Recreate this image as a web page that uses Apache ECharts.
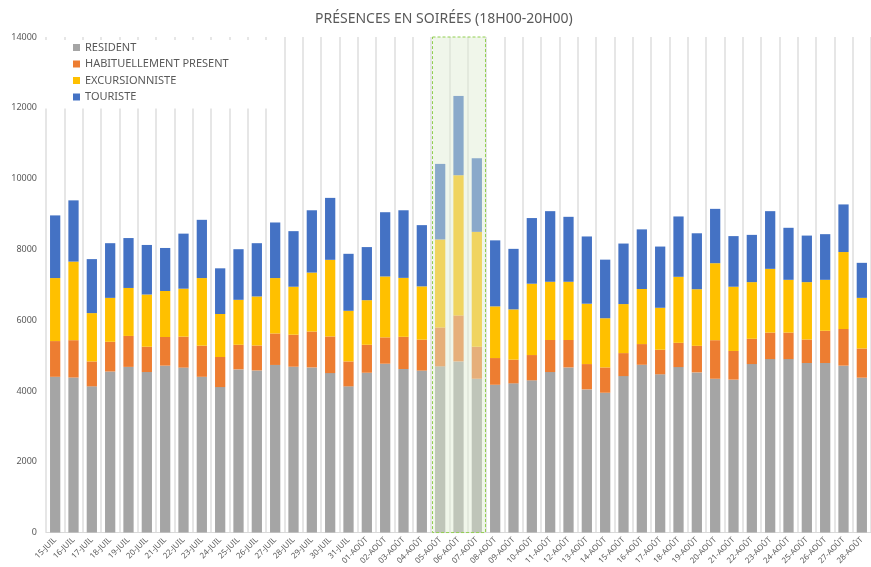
<!DOCTYPE html>
<html>
<head>
<meta charset="utf-8">
<script src="https://cdn.jsdelivr.net/npm/echarts@6/dist/echarts.min.js"></script>
<style>
  html, body { margin: 0; padding: 0; background: #fff; }
  #myChart { width: 871px; height: 567px; }
</style>
</head>
<body>
<div id="myChart"></div>
<script>
const days = ['15-JUIL', '16-JUIL', '17-JUIL', '18-JUIL', '19-JUIL', '20-JUIL', '21-JUIL', '22-JUIL', '23-JUIL',
  '24-JUIL', '25-JUIL', '26-JUIL', '27-JUIL', '28-JUIL', '29-JUIL', '30-JUIL', '31-JUIL',
  '01-AOÛT', '02-AOÛT', '03-AOÛT', '04-AOÛT', '05-AOÛT', '06-AOÛT', '07-AOÛT', '08-AOÛT', '09-AOÛT',
  '10-AOÛT', '11-AOÛT', '12-AOÛT', '13-AOÛT', '14-AOÛT', '15-AOÛT', '16-AOÛT', '17-AOÛT', '18-AOÛT',
  '19-AOÛT', '20-AOÛT', '21-AOÛT', '22-AOÛT', '23-AOÛT', '24-AOÛT', '25-AOÛT', '26-AOÛT', '27-AOÛT', '28-AOÛT'];

const resident = [4400, 4380, 4130, 4550, 4680, 4535, 4715, 4660, 4400, 4110, 4610, 4580, 4735, 4685,
  4665, 4505, 4130, 4515, 4770, 4620, 4575, 4695, 4835, 4345, 4175, 4215, 4300,
  4535, 4665, 4045, 3950, 4420, 4740, 4470, 4675, 4525,
  4345, 4320, 4760, 4900, 4900, 4790, 4790, 4715, 4375];
const habituel = [1010, 1055, 705, 840, 875, 715, 810, 875, 880, 850, 695, 705, 890, 905,
  1015, 1035, 705, 790, 745, 910, 875, 1100, 1300, 905, 755, 670, 715,
  905, 775, 715, 715, 650, 585, 695, 685, 750,
  1090, 810, 715, 750, 750, 665, 910, 1035, 825];
const excursion = [1780, 2220, 1365, 1240, 1355, 1475, 1300, 1355, 1910, 1215, 1270, 1385, 1565, 1355,
  1665, 2165, 1430, 1260, 1720, 1665, 1505, 2485, 3960, 3245, 1460, 1420, 2015,
  1645, 1645, 1705, 1390, 1385, 1555, 1185, 1865, 1600,
  2175, 1815, 1600, 1800, 1490, 1620, 1440, 2175, 1430];
const touriste = [1770, 1730, 1525, 1545, 1410, 1400, 1215, 1555, 1645, 1290, 1430, 1505, 1570, 1570,
  1760, 1750, 1610, 1500, 1815, 1910, 1730, 2135, 2240, 2080, 1865, 1710, 1855,
  1995, 1835, 1900, 1655, 1710, 1685, 1730, 1705, 1580,
  1535, 1430, 1335, 1630, 1470, 1315, 1290, 1345, 990];

// jours mis en évidence (cadre vert)
const highlightFrom = '05-AOÛT';
const highlightTo = '07-AOÛT';

const textColor = '#595959';
const font = 'Noto Sans';

function barSerie(name, data, color) {
  return {
    name: name,
    type: 'bar',
    stack: 'total',
    barWidth: '56%',
    data: data,
    itemStyle: { color: color },
  };
}

let myChart = echarts.init(document.getElementById('myChart'));
myChart.setOption({
  animation: false,
  textStyle: { fontFamily: font },
  title: {
    text: 'PRÉSENCES EN SOIRÉES (18H00-20H00)',
    left: 310,
    top: 7,
    textStyle: { color: textColor, fontSize: 14, fontWeight: 'normal', fontFamily: font },
  },
  legend: {
    orient: 'vertical',
    left: 45,
    top: 40,
    padding: [2, 46, 6, 28],
    backgroundColor: '#fff',
    itemWidth: 7,
    itemHeight: 7,
    itemGap: 5.5,
    icon: 'rect',
    textStyle: { color: textColor, fontSize: 11, fontFamily: font },
    data: ['RESIDENT', 'HABITUELLEMENT PRESENT', 'EXCURSIONNISTE', 'TOURISTE'],
  },
  grid: {
    left: 46,
    right: -3,
    top: 37,
    bottom: 34,
  },
  xAxis: {
    type: 'category',
    data: days,
    axisTick: { show: false },
    axisLine: { show: true, lineStyle: { color: '#d9d9d9', width: 1 } },
    splitLine: { show: true, interval: 0, lineStyle: { color: '#dedede', width: 1.5 } },
    axisLabel: {
      interval: 0,
      rotate: 45,
      fontSize: 8,
      color: textColor,
      margin: 6,
    },
  },
  yAxis: {
    type: 'value',
    min: 0,
    max: 14000,
    interval: 2000,
    axisLine: { show: false },
    axisTick: { show: false },
    splitLine: { show: false },
    axisLabel: {
      color: textColor,
      fontSize: 9,
      margin: 9,
      formatter: function (v) {
        return String(v);
      },
    },
  },
  series: [
    barSerie('RESIDENT', resident, '#a5a5a5'),
    barSerie('HABITUELLEMENT PRESENT', habituel, '#ed7d31'),
    barSerie('EXCURSIONNISTE', excursion, '#ffc000'),
    barSerie('TOURISTE', touriste, '#4472c4'),
  ],
});

// cadre vert calculé à partir des échelles du graphique
let i0 = days.indexOf(highlightFrom);
let i1 = days.indexOf(highlightTo);
let c0 = myChart.convertToPixel({ xAxisIndex: 0 }, days[i0]);
let c1 = myChart.convertToPixel({ xAxisIndex: 0 }, days[i1]);
let band = myChart.convertToPixel({ xAxisIndex: 0 }, days[i0 + 1]) - c0;
let yTop = myChart.convertToPixel({ yAxisIndex: 0 }, 14000);
let yBottom = myChart.convertToPixel({ yAxisIndex: 0 }, 0);
myChart.setOption({
  graphic: [
    {
      type: 'rect',
      z: 100,
      shape: {
        x: c0 - band / 2 + 1.5,
        y: yTop,
        width: c1 - c0 + band - 2,
        height: yBottom - yTop,
      },
      style: {
        fill: 'rgba(222,235,209,0.46)',
        stroke: '#92d050',
        lineWidth: 1,
        lineDash: [3, 2],
      },
    },
  ],
});
</script>
</body>
</html>
